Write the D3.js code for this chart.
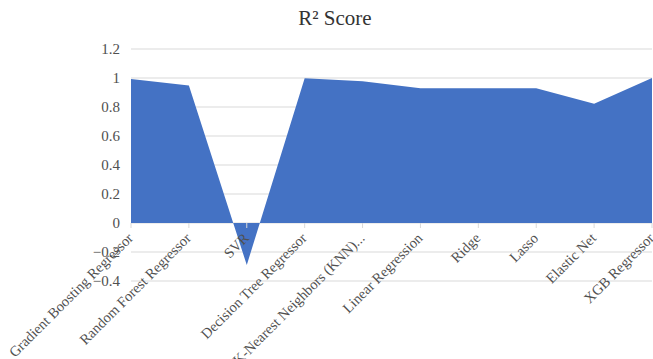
<!DOCTYPE html>
<html>
<head>
<meta charset="utf-8">
<script src="https://cdn.jsdelivr.net/npm/d3@7"></script>
<style>
  body { margin: 0; background: #fff; }
  text { font-family: "Liberation Serif", "Times New Roman", serif; }
</style>
</head>
<body>
<div id="chart"></div>
<script>
// chart data
const models = ["Gradient Boosting Regressor", "Random Forest Regressor", "SVR", "Decision Tree Regressor",
  "K-Nearest Neighbors (KNN)...", "Linear Regression", "Ridge", "Lasso", "Elastic Net", "XGB Regressor"];
const r2Scores = [0.993, 0.948, -0.29, 0.998, 0.977, 0.93, 0.93, 0.93, 0.823, 1.0];
const yTicks = [-0.4, -0.2, 0, 0.2, 0.4, 0.6, 0.8, 1, 1.2];

const width = 653;
const height = 359;
const margin = { top: 49, right: 1, bottom: 78, left: 131 };

const svg = d3.select("#chart")
  .append("svg")
  .attr("width", width)
  .attr("height", height);

const x = d3.scalePoint()
  .domain(models)
  .range([margin.left, width - margin.right]);

const y = d3.scaleLinear()
  .domain([-0.4, 1.2])
  .range([height - margin.bottom, margin.top]);

// gridlines
svg.append("g")
  .selectAll("line")
  .data(yTicks)
  .enter().append("line")
  .attr("x1", margin.left)
  .attr("x2", width - margin.right)
  .attr("y1", d => y(d))
  .attr("y2", d => y(d))
  .attr("stroke", "#d9d9d9")
  .attr("stroke-width", 1);

// y labels
svg.append("g")
  .selectAll("text")
  .data(yTicks)
  .enter().append("text")
  .attr("x", 120)
  .attr("y", d => y(d) + 5)
  .attr("text-anchor", "end")
  .attr("font-size", 15)
  .attr("fill", "#505050")
  .text(d => d3.format("")(+d.toFixed(1)));

// the area
const area = d3.area()
  .x((d, i) => x(models[i]))
  .y0(y(0))
  .y1(d => y(d));

svg.append("path")
  .datum(r2Scores)
  .attr("d", area)
  .attr("fill", "#4472c4");

// x ticks
svg.append("g")
  .selectAll("line")
  .data(models)
  .enter().append("line")
  .attr("x1", d => x(d))
  .attr("x2", d => x(d))
  .attr("y1", y(0))
  .attr("y2", y(0) + 5)
  .attr("stroke", "#d9d9d9");

// category labels
svg.append("g")
  .selectAll("text")
  .data(models)
  .enter().append("text")
  .attr("transform", d => `translate(${x(d) + 3},${y(0) + 16}) rotate(-45)`)
  .attr("text-anchor", "end")
  .attr("font-size", 14.5)
  .attr("fill", "#505050")
  .text(d => d);

// title
svg.append("text")
  .attr("x", 335)
  .attr("y", 25)
  .attr("text-anchor", "middle")
  .attr("font-size", 21)
  .attr("fill", "#333")
  .text("R² Score");
</script>
</body>
</html>
